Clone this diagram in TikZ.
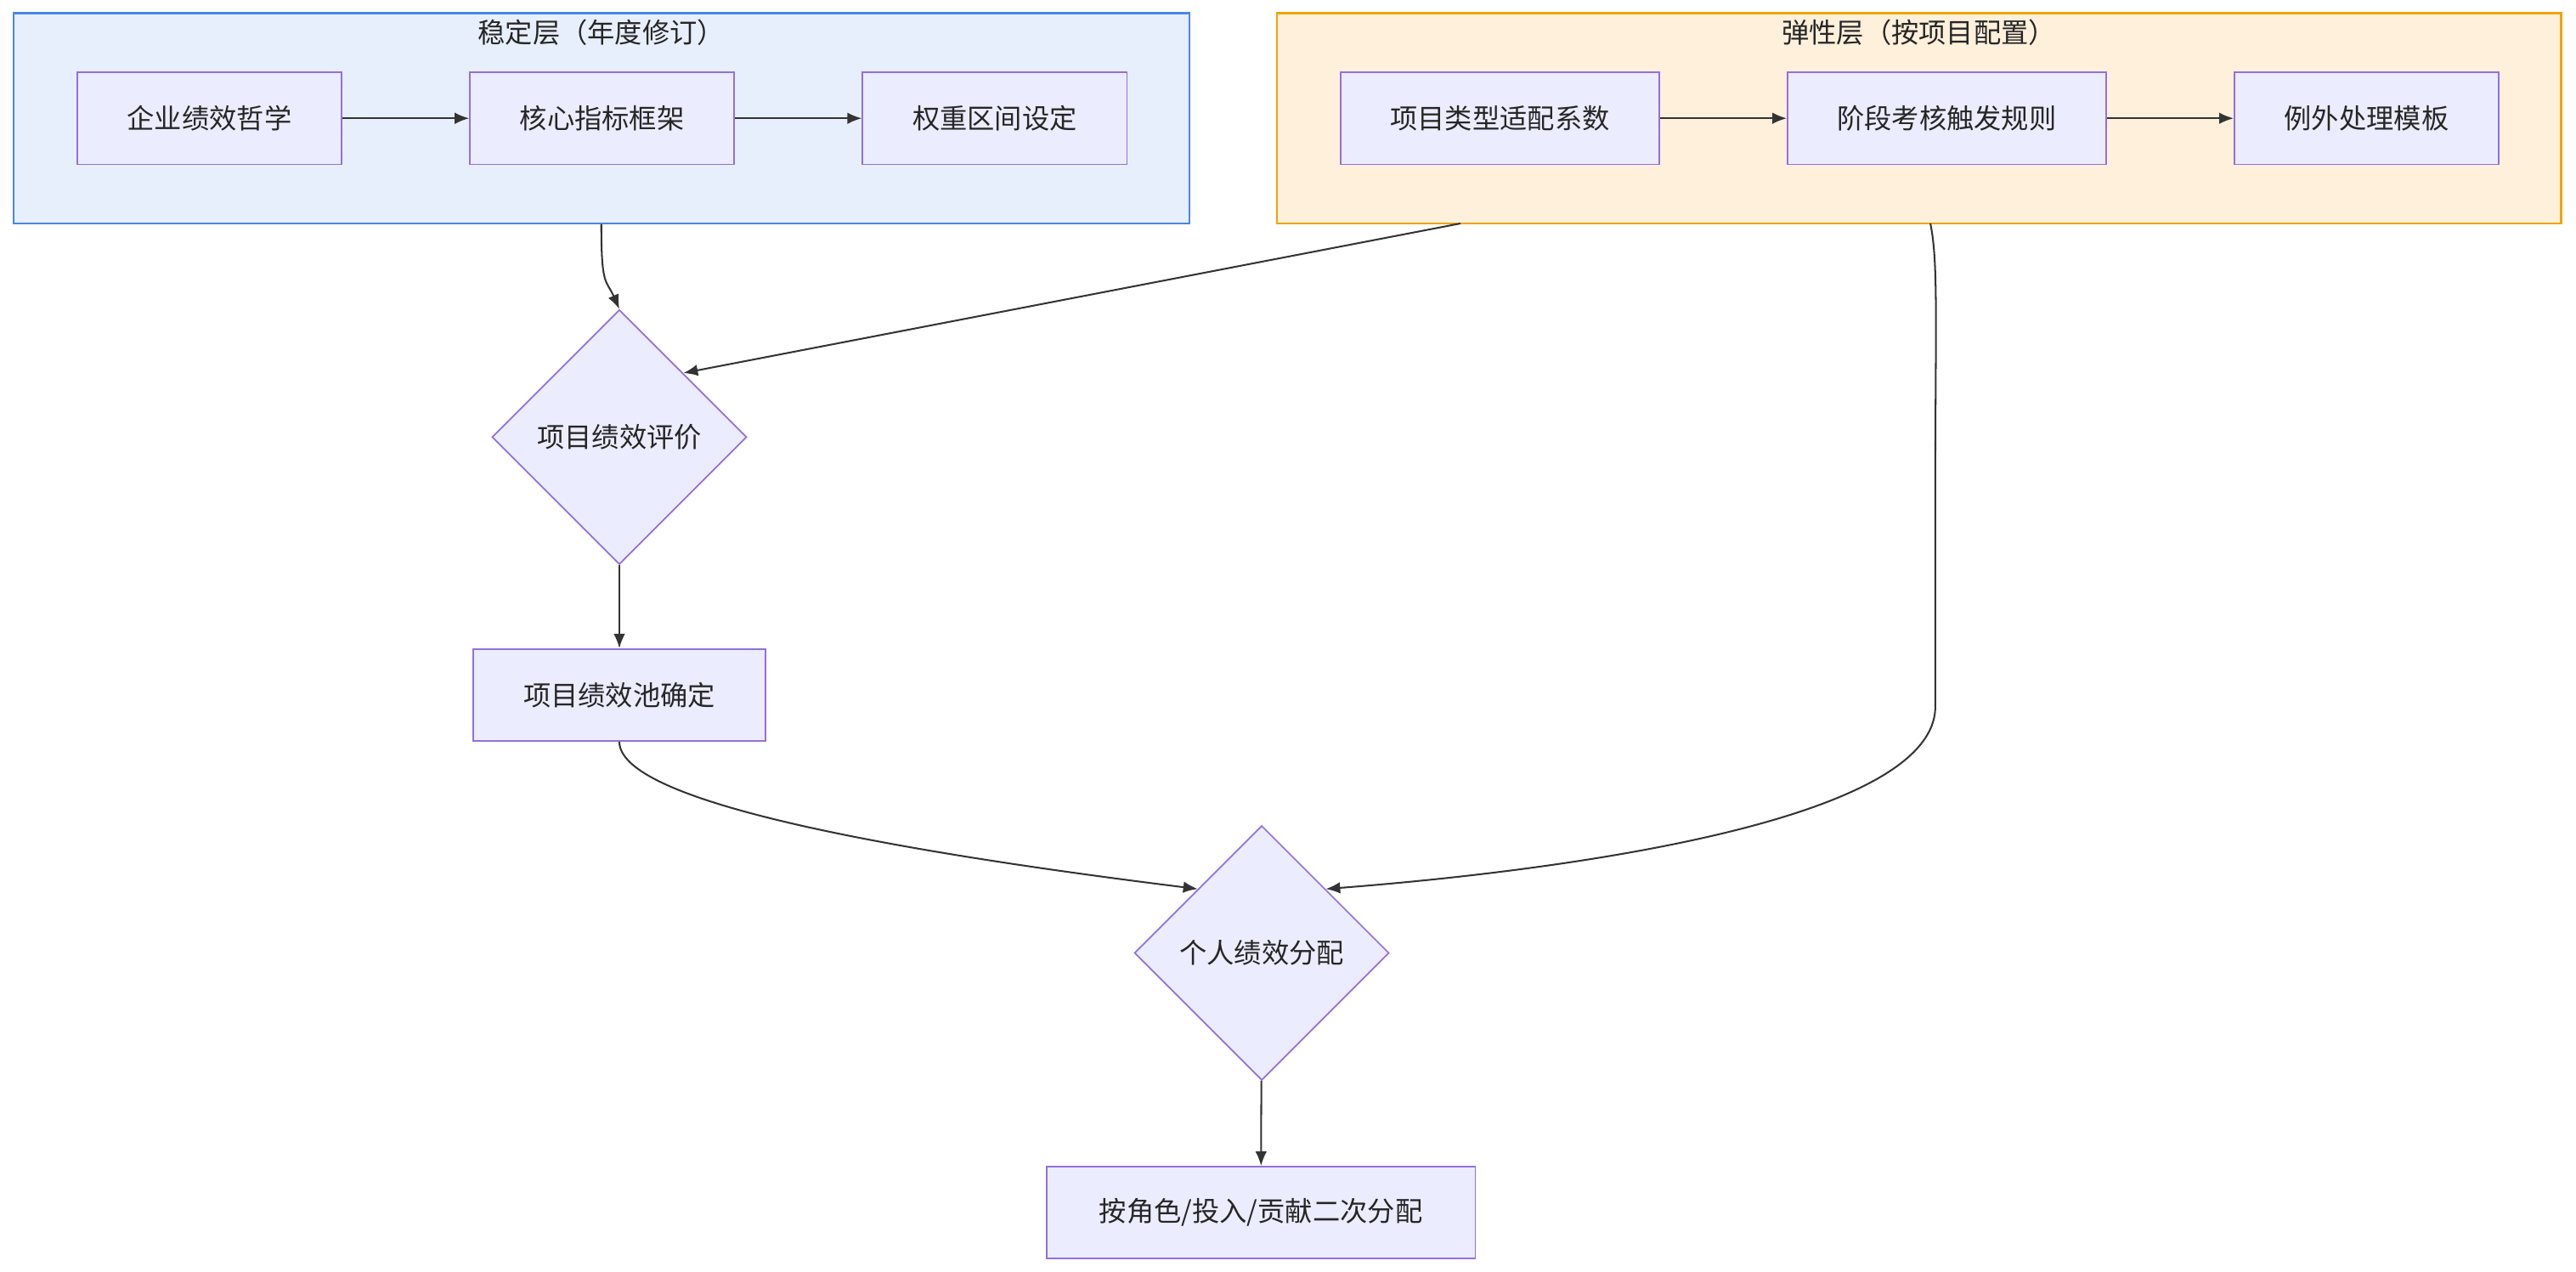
\documentclass[tikz,border=0pt]{standalone}
\usepackage{fontspec}
\setmainfont{Noto Sans CJK SC}
\usetikzlibrary{shapes.geometric,arrows.meta}
\definecolor{nodefill}{HTML}{ECECFF}
\definecolor{nodeline}{HTML}{9370DB}
\definecolor{stablefill}{HTML}{E8EFFC}
\definecolor{stableline}{HTML}{4A86E8}
\definecolor{flexfill}{HTML}{FFF0DB}
\definecolor{flexline}{HTML}{F0A30A}
\definecolor{edge}{HTML}{333333}
\begin{document}
\begin{tikzpicture}[x=0.02cm, y=-0.02cm,
    every node/.style = {font=\fontsize{9.5}{11}\selectfont, text=black!85},
    box/.style = {draw=nodeline, fill=nodefill, line width=0.5pt, minimum height=1.12cm},
    dec/.style = {draw=nodeline, fill=nodefill, line width=0.5pt, diamond, minimum width=3.1cm, minimum height=3.1cm, inner sep=0pt},
    layer/.style = {draw, line width=0.6pt, minimum height=2.56cm},
    arr/.style = {-{Latex[length=5pt,width=4pt]}, edge, line width=0.6pt}]
    \useasboundingbox (0,0) rectangle (1568,774);

    % layers
    \node[layer, draw=stableline, fill=stablefill, minimum width=14.32cm] (stable) at (366,72) {};
    \node (stableT) at (366,20) {稳定层（年度修订）};
    \node[layer, draw=flexline, fill=flexfill, minimum width=15.64cm] (flex) at (1168,72) {};
    \node (flexT) at (1168,20) {弹性层（按项目配置）};

    % stable nodes
    \node[box, minimum width=3.22cm] (phil) at (127.5,72) {企业绩效哲学};
    \node[box, minimum width=3.22cm] (core) at (366.5,72) {核心指标框架};
    \node[box, minimum width=3.22cm] (weight) at (605.5,72) {权重区间设定};

    % flex nodes
    \node[box, minimum width=3.88cm] (coef) at (913,72) {项目类型适配系数};
    \node[box, minimum width=3.88cm] (stage) at (1185,72) {阶段考核触发规则};
    \node[box, minimum width=3.22cm] (except) at (1440.5,72) {例外处理模板};

    % flow
    \node[dec] (eval) at (377,266) {项目绩效评价};
    \node[box, minimum width=3.56cm] (pool) at (377,423) {项目绩效池确定};
    \node[dec] (alloc) at (768,580) {个人绩效分配};
    \node[box, minimum width=5.22cm] (second) at (767.5,738) {按角色/投入/贡献二次分配};

    \coordinate (flexA) at (889,136);
    \coordinate (flexB) at (1175,136);

    \draw[arr] (phil) -- (core);
    \draw[arr] (core) -- (weight);
    \draw[arr] (coef) -- (stage);
    \draw[arr] (stage) -- (except);
    \draw[arr] (stable.south) .. controls (366,175) and (369,170) .. (eval.north);
    \draw[arr] (flexA) -- (eval.north east);
    \draw[arr] (flexB) .. controls (1180,160) and (1178,200) .. (1178,300) -- (1178,430)
        .. controls (1178,500) and (950,530) .. (alloc.north east);
    \draw[arr] (eval) -- (pool);
    \draw[arr] (pool.south) .. controls (377,490) and (560,520) .. (alloc.north west);
    \draw[arr] (alloc) -- (second);
\end{tikzpicture}
\end{document}
